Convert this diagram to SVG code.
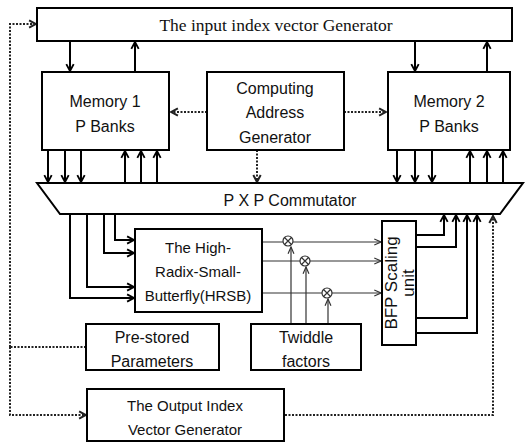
<svg xmlns="http://www.w3.org/2000/svg" width="525" height="443" viewBox="0 0 525 443">
<style>
.box{fill:#fff;stroke:#000;stroke-width:2}
.t{font-family:"Liberation Sans",Arial,sans-serif;font-size:16px;fill:#111;text-anchor:middle}
.s{font-family:"Liberation Serif","Times New Roman",serif;font-size:17.5px;fill:#111;text-anchor:middle}
.w{fill:none;stroke:#000;stroke-width:2}
.thin{fill:none;stroke:#333;stroke-width:1.2}
.dot{fill:none;stroke:#222;stroke-width:2;stroke-dasharray:2 1.5}
.mul{fill:#fff;stroke:#333;stroke-width:1.2}
</style>
<defs>
<marker id="a" viewBox="0 0 10 10" refX="9" refY="5" markerWidth="4.6" markerHeight="4.6" orient="auto" markerUnits="strokeWidth"><path d="M1.5,1 L9,5 L1.5,9" fill="none" stroke="#000" stroke-width="2"/></marker>
<marker id="at" viewBox="0 0 10 10" refX="9" refY="5" markerWidth="7" markerHeight="7" orient="auto" markerUnits="strokeWidth"><path d="M1,1.5 L9,5 L1,8.5" fill="none" stroke="#333" stroke-width="1.4"/></marker>
<marker id="ad" viewBox="0 0 10 10" refX="9" refY="5" markerWidth="4.6" markerHeight="4.6" orient="auto" markerUnits="strokeWidth"><path d="M1.5,1 L9,5 L1.5,9" fill="none" stroke="#222" stroke-width="2.2"/></marker>
</defs>

<g id="connectors">
  <path class="w" d="M70,41 V71" marker-end="url(#a)"/>
  <path class="w" d="M135,72 V42" marker-end="url(#a)"/>
  <path class="w" d="M415,41 V71" marker-end="url(#a)"/>
  <path class="w" d="M487,72 V42" marker-end="url(#a)"/>
  <path class="dot" d="M207,112 H171" marker-end="url(#ad)"/>
  <path class="dot" d="M344,112 H386" marker-end="url(#ad)"/>
  <path class="dot" d="M257,150 V182" marker-end="url(#ad)"/>
  <path class="w" d="M48,150 V182" marker-end="url(#a)"/>
  <path class="w" d="M65,150 V182" marker-end="url(#a)"/>
  <path class="w" d="M81,150 V182" marker-end="url(#a)"/>
  <path class="w" d="M125,183 V151" marker-end="url(#a)"/>
  <path class="w" d="M141,183 V151" marker-end="url(#a)"/>
  <path class="w" d="M157,183 V151" marker-end="url(#a)"/>
  <path class="w" d="M397,150 V182" marker-end="url(#a)"/>
  <path class="w" d="M415,150 V182" marker-end="url(#a)"/>
  <path class="w" d="M432,150 V182" marker-end="url(#a)"/>
  <path class="w" d="M470,183 V151" marker-end="url(#a)"/>
  <path class="w" d="M487,183 V151" marker-end="url(#a)"/>
  <path class="w" d="M503,183 V151" marker-end="url(#a)"/>
  <path class="w" d="M115,214 V240 H134" marker-end="url(#a)"/>
  <path class="w" d="M104,214 V253 H134" marker-end="url(#a)"/>
  <path class="w" d="M87,214 V287 H134" marker-end="url(#a)"/>
  <path class="w" d="M70,214 V298 H134" marker-end="url(#a)"/>
  <path class="thin" d="M263,242 H381" marker-end="url(#at)"/>
  <path class="thin" d="M263,261 H381" marker-end="url(#at)"/>
  <path class="thin" d="M263,293 H381" marker-end="url(#at)"/>
  <path class="thin" d="M291,324 V247" marker-end="url(#at)"/>
  <path class="thin" d="M306,324 V267" marker-end="url(#at)"/>
  <path class="thin" d="M328,324 V299" marker-end="url(#at)"/>
  <path class="w" d="M416,235 H444 V215" marker-end="url(#a)"/>
  <path class="w" d="M416,247 H456 V215" marker-end="url(#a)"/>
  <path class="w" d="M416,318 H467 V215" marker-end="url(#a)"/>
  <path class="w" d="M416,333 H477 V215" marker-end="url(#a)"/>
  <path class="dot" d="M285,415 H493 V216" marker-end="url(#ad)"/>
  <path class="dot" d="M86,347 H10"/>
  <path class="dot" d="M10,347 V24 H36" marker-end="url(#ad)"/>
  <path class="dot" d="M10,347 V415 H86" marker-end="url(#ad)"/>
</g>

<g id="input-gen">
  <rect class="box" x="37" y="8" width="475" height="33"/>
  <text class="s" x="276" y="31">The input index vector Generator</text>
</g>
<g id="memory1">
  <rect class="box" x="42" y="72" width="127" height="78"/>
  <text class="t" x="105" y="107">Memory 1</text>
  <text class="t" x="105" y="132">P Banks</text>
</g>
<g id="cag">
  <rect class="box" x="207" y="72" width="137" height="78"/>
  <text class="t" x="275" y="94">Computing</text>
  <text class="t" x="275" y="118">Address</text>
  <text class="t" x="275" y="143">Generator</text>
</g>
<g id="memory2">
  <rect class="box" x="388" y="72" width="122" height="78"/>
  <text class="t" x="449" y="107">Memory 2</text>
  <text class="t" x="449" y="132">P Banks</text>
</g>
<g id="commutator">
  <path class="box" d="M37,183 H523 L500,214 H60 Z"/>
  <text class="t" x="290" y="206">P X P Commutator</text>
</g>
<g id="hrsb">
  <rect class="box" x="135" y="229" width="127" height="83"/>
  <text class="t" x="198" y="253" style="font-size:15px">The High-</text>
  <text class="t" x="198" y="277" style="font-size:15px">Radix-Small-</text>
  <text class="t" x="198" y="301" style="font-size:15px">Butterfly(HRSB)</text>
</g>
<g id="mult1">
  <circle class="mul" cx="288" cy="241" r="5"/>
  <path class="thin" d="M284.5,237.5 L291.5,244.5 M291.5,237.5 L284.5,244.5"/>
</g>
<g id="mult2">
  <circle class="mul" cx="305" cy="261" r="5"/>
  <path class="thin" d="M301.5,257.5 L308.5,264.5 M308.5,257.5 L301.5,264.5"/>
</g>
<g id="mult3">
  <circle class="mul" cx="327" cy="293" r="5"/>
  <path class="thin" d="M323.5,289.5 L330.5,296.5 M330.5,289.5 L323.5,296.5"/>
</g>
<g id="bfp">
  <rect class="box" x="382" y="221" width="34" height="124"/>
  <text class="t" transform="translate(397,283) rotate(-90)" style="font-size:17px">BFP Scaling</text>
  <text class="t" transform="translate(414,283) rotate(-90)" style="font-size:17px">unit</text>
</g>
<g id="prestored">
  <rect class="box" x="86" y="324" width="133" height="46"/>
  <text class="t" x="152" y="343">Pre-stored</text>
  <text class="t" x="152" y="367">Parameters</text>
</g>
<g id="twiddle">
  <rect class="box" x="251" y="324" width="110" height="46"/>
  <text class="t" x="306" y="343">Twiddle</text>
  <text class="t" x="306" y="367">factors</text>
</g>
<g id="output-gen">
  <rect class="box" x="87" y="389" width="197" height="52"/>
  <text class="t" x="185" y="411" style="font-size:15px">The Output Index</text>
  <text class="t" x="185" y="435" style="font-size:15px">Vector Generator</text>
</g>
</svg>
